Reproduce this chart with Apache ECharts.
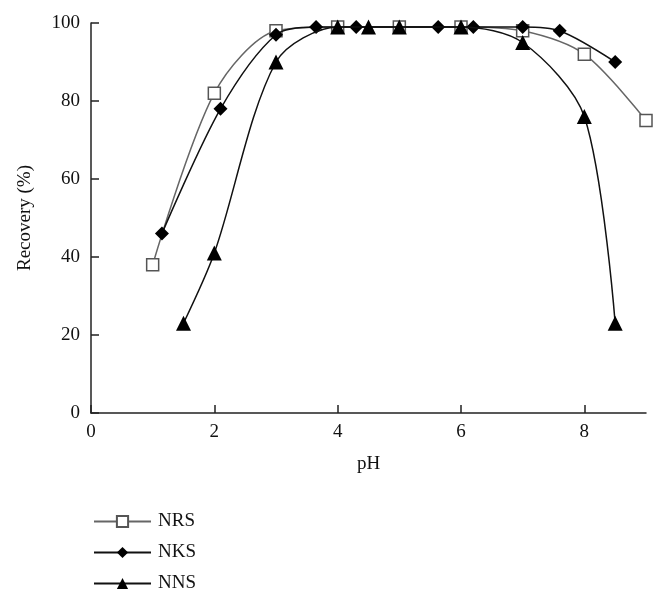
<!DOCTYPE html>
<html><head><meta charset="utf-8">
<script src="https://cdn.jsdelivr.net/npm/echarts@6/dist/echarts.min.js"></script>
<style>html,body{margin:0;padding:0;background:#fff}#c{width:664px;height:604px}</style>
</head><body><div id="c"></div>
<script>
const seriesNames = ['NRS', 'NKS', 'NNS'];
const nrsX = [1, 2, 3, 4, 5, 6, 7, 8, 9];
const nrsY = [38, 82, 98, 99, 99, 99, 98, 92, 75];
const nksX = [1.15, 2.1, 3, 3.65, 4.3, 5.63, 6.2, 7, 7.6, 8.5];
const nksY = [46, 78, 97, 99, 99, 99, 99, 99, 98, 90];
const nnsX = [1.5, 2, 3, 4, 4.5, 5, 6, 7, 8, 8.5];
const nnsY = [23, 41, 90, 99, 99, 99, 99, 95, 76, 23];
const xTicks = [0, 2, 4, 6, 8];
const yTicks = [0, 20, 40, 60, 80, 100];

const font = 'Liberation Serif';
const zip = (xs, ys) => xs.map((x, i) => [x, ys[i]]);

const chart = echarts.init(document.getElementById('c'), null, {renderer: 'canvas'});
chart.setOption({
  backgroundColor: '#fff',
  animation: false,
  grid: {left: 91, right: 18, top: 23, bottom: 191, containLabel: false},
  xAxis: {
    type: 'value', min: 0, max: 9, interval: 2,
    name: 'pH', nameLocation: 'middle', nameGap: 42,
    nameTextStyle: {fontFamily: font, fontSize: 19, color: '#111'},
    axisLine: {lineStyle: {color: '#222', width: 1.5}},
    axisTick: {inside: true, length: 8, lineStyle: {color: '#222', width: 1.5}, customValues: xTicks},
    axisLabel: {fontFamily: font, fontSize: 19, color: '#111', margin: 10, customValues: xTicks},
    splitLine: {show: false}
  },
  yAxis: {
    type: 'value', min: 0, max: 100, interval: 20,
    name: 'Recovery (%)', nameLocation: 'middle', nameGap: 56, nameRotate: 90,
    nameTextStyle: {fontFamily: font, fontSize: 19, color: '#111'},
    axisLine: {show: true, lineStyle: {color: '#222', width: 1.5}},
    axisTick: {show: true, inside: true, length: 8, lineStyle: {color: '#222', width: 1.5}, customValues: yTicks},
    axisLabel: {fontFamily: font, fontSize: 19, color: '#111', margin: 11, customValues: yTicks},
    splitLine: {show: false}
  },
  legend: {
    orient: 'vertical', left: 88, top: 507, itemWidth: 57, itemHeight: 14, itemGap: 12,
    textStyle: {fontFamily: font, fontSize: 19, color: '#111', padding: [0, 0, 0, 2]},
    data: seriesNames
  },
  series: [
    {
      name: seriesNames[0], type: 'line', smooth: 0.3, data: zip(nrsX, nrsY),
      symbol: 'rect', symbolSize: 12,
      lineStyle: {color: '#666', width: 1.5},
      itemStyle: {color: '#fff', borderColor: '#555', borderWidth: 1.5},
      z: 3
    },
    {
      name: seriesNames[1], type: 'line', smooth: 0.3, data: zip(nksX, nksY),
      symbol: 'diamond', symbolSize: 14,
      lineStyle: {color: '#111', width: 1.5},
      itemStyle: {color: '#000'},
      z: 4
    },
    {
      name: seriesNames[2], type: 'line', smooth: 0.3, data: zip(nnsX, nnsY),
      symbol: 'triangle', symbolSize: 15,
      lineStyle: {color: '#111', width: 1.5},
      itemStyle: {color: '#000'},
      z: 5
    }
  ]
});
</script></body></html>
